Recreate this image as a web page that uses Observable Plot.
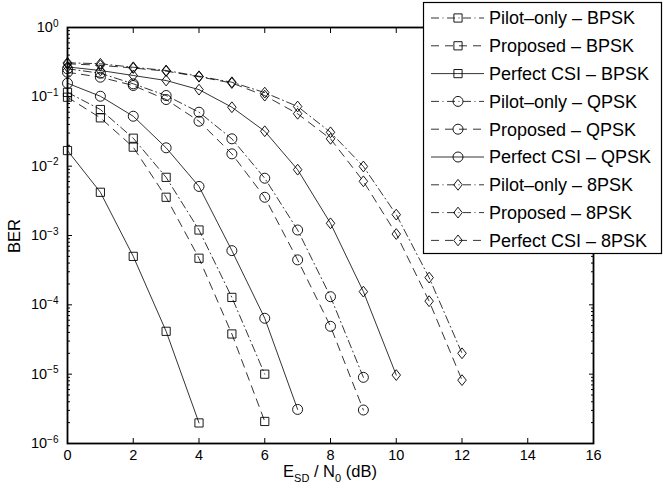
<!DOCTYPE html>
<html><head><meta charset="utf-8">
<script src="https://cdn.jsdelivr.net/npm/d3@7"></script>
<script src="https://cdn.jsdelivr.net/npm/@observablehq/plot@0.6"></script>
<style>
body{margin:0;background:#fff;}
#chart{position:relative;width:665px;height:487px;font-family:"Liberation Sans",Arial,sans-serif;}
#legend{position:absolute;left:0;top:0;}
</style></head><body><div id="chart"></div>
<script>
// ---- data ----
const seriesNames = [
  "Pilot–only – BPSK","Proposed – BPSK","Perfect CSI – BPSK",
  "Pilot–only – QPSK","Proposed – QPSK","Perfect CSI – QPSK",
  "Pilot–only – 8PSK","Proposed – 8PSK","Perfect CSI – 8PSK"
];
const snrBPSKpilot = [0,1,2,3,4,5,6];
const berBPSKpilot = [0.116,0.0656,0.0253,6.9e-3,1.2e-3,1.28e-4,1.0e-5];
const snrBPSKprop = [0,1,2,3,4,5,6];
const berBPSKprop = [0.0987,0.0498,0.0188,3.56e-3,4.7e-4,3.8e-5,2.08e-6];
const snrBPSKperf = [0,1,2,3,4];
const berBPSKperf = [1.68e-2,4.2e-3,5.0e-4,4.15e-5,1.98e-6];
const snrQPSKpilot = [0,1,2,3,4,5,6,7,8,9];
const berQPSKpilot = [0.254,0.219,0.154,0.1045,0.060,0.0248,6.7e-3,1.2e-3,1.31e-4,9.0e-6];
const snrQPSKprop = [0,1,2,3,4,5,6,7,8,9];
const berQPSKprop = [0.226,0.192,0.1456,0.0914,0.0445,0.01505,3.56e-3,4.45e-4,4.9e-5,3.04e-6];
const snrQPSKperf = [0,1,2,3,4,5,6,7];
const berQPSKperf = [0.157,0.102,0.0525,0.0184,5.1e-3,6.05e-4,6.4e-5,3.1e-6];
const snr8PSKpilot = [0,1,2,3,4,5,6,7,8,9,10,11,12];
const ber8PSKpilot = [0.31,0.30,0.267,0.24,0.198,0.1625,0.115,0.0725,0.0308,9.9e-3,2.0e-3,2.47e-4,2.0e-5];
const snr8PSKprop = [0,1,2,3,4,5,6,7,8,9,10,11,12];
const ber8PSKprop = [0.30,0.285,0.26,0.235,0.195,0.158,0.104,0.057,0.0248,6.05e-3,1.05e-3,1.13e-4,8.2e-6];
const snr8PSKperf = [0,1,2,3,4,5,6,7,8,9,10];
const ber8PSKperf = [0.27,0.24,0.203,0.172,0.127,0.0708,0.0319,8.9e-3,1.5e-3,1.55e-4,9.7e-6];
const xTicks = [0,2,4,6,8,10,12,14,16];
const yTicks = [1e-6,1e-5,1e-4,1e-3,1e-2,1e-1,1];

// ---- styles ----
const DASH = "8,6", DASHDOT = "8,3.5,1,3.5", SOLID = null;
const diamondSym = {draw(ctx, size){ const r=Math.sqrt(size/Math.PI); const w=r*0.85, h=r*1.08;
  ctx.moveTo(0,-h); ctx.lineTo(w,0); ctx.lineTo(0,h); ctx.lineTo(-w,0); ctx.closePath(); }};
const squareSym = {draw(ctx, size){ const r=Math.sqrt(size/Math.PI)*0.82;
  ctx.moveTo(-r,-r); ctx.lineTo(r,-r); ctx.lineTo(r,r); ctx.lineTo(-r,r); ctx.closePath(); }};
const circleSym = {draw(ctx, size){ const r=Math.sqrt(size/Math.PI); ctx.moveTo(r,0); ctx.arc(0,0,r,0,2*Math.PI); }};

const raw = [
  [snrBPSKpilot, berBPSKpilot, squareSym, DASHDOT, DASHDOT],
  [snrBPSKprop,  berBPSKprop,  squareSym, DASH, DASH],
  [snrBPSKperf,  berBPSKperf,  squareSym, SOLID, SOLID],
  [snrQPSKpilot, berQPSKpilot, circleSym, DASHDOT, DASHDOT],
  [snrQPSKprop,  berQPSKprop,  circleSym, DASH, DASH],
  [snrQPSKperf,  berQPSKperf,  circleSym, SOLID, SOLID],
  [snr8PSKpilot, ber8PSKpilot, diamondSym, DASHDOT, DASHDOT],
  [snr8PSKprop,  ber8PSKprop,  diamondSym, DASH, DASHDOT],
  [snr8PSKperf,  ber8PSKperf,  diamondSym, SOLID, DASH]
];
const series = raw.map(([xs, ys, sym, dash, legDash], i) => ({
  name: seriesNames[i], sym, dash, legDash,
  data: xs.map((x, j) => ({x, y: ys[j]}))
}));

const minorTicks = [];
for (let e = -6; e < 0; e++) for (let m = 2; m <= 9; m++) minorTicks.push(m * Math.pow(10, e));

const marks = [];
for (const s of series) {
  marks.push(Plot.line(s.data, {x:"x", y:"y", stroke:"black", strokeWidth:0.8, strokeDasharray: s.dash || undefined}));
  marks.push(Plot.dot(s.data, {x:"x", y:"y", symbol: s.sym, r:5, stroke:"black", strokeWidth:0.9, fill:"none"}));
}
const tickStyle = {stroke:"black", strokeWidth:1, tickFormat: () => ""};
marks.push(
  Plot.axisX(xTicks, {anchor:"bottom", tickSize:0, tickPadding:6, fontSize:14.5, tickFormat: d => String(d)}),
  Plot.axisX(xTicks, {anchor:"bottom", tickSize:-5, ...tickStyle}),
  Plot.axisX(xTicks, {anchor:"top", tickSize:-5, ...tickStyle}),
  Plot.axisY(yTicks, {anchor:"left", tickSize:0, tickPadding:9, fontSize:14.5, tickFormat: d => "10^" + Math.round(Math.log10(d))}),
  Plot.axisY(yTicks, {anchor:"left", tickSize:-5, ...tickStyle}),
  Plot.axisY(yTicks, {anchor:"right", tickSize:-5, ...tickStyle}),
  Plot.axisY(minorTicks, {anchor:"left", tickSize:-3, ...tickStyle}),
  Plot.axisY(minorTicks, {anchor:"right", tickSize:-3, ...tickStyle}),
  Plot.frame({stroke:"black", strokeWidth:1.8})
);

const plot = Plot.plot({
  width: 665, height: 487,
  marginLeft: 67, marginRight: 72, marginTop: 27, marginBottom: 44,
  style: {fontFamily: '"Liberation Sans", Arial, sans-serif', background: "white", color: "black"},
  x: {domain: [0, 16], label: null},
  y: {type: "log", domain: [1e-6, 1], label: null},
  marks
});
document.getElementById("chart").appendChild(plot);

const svg = d3.select(plot);
// superscripts on the y tick labels
svg.selectAll('g[aria-label="y-axis tick label"] text').each(function(){
  const t = d3.select(this); const s = t.text();
  if (!s.includes("^")) return;
  const exp = s.split("^")[1].replace("-", "−");
  t.text("10");
  t.append("tspan").attr("dy", "-0.55em").attr("font-size", "10px").text(exp);
});
// axis titles
const xl = svg.append("text").attr("x", 330).attr("y", 477).attr("text-anchor", "middle")
  .attr("font-size", 16.5).attr("fill", "black");
xl.append("tspan").text("E");
xl.append("tspan").attr("dy", 5).attr("font-size", 11).text("SD");
xl.append("tspan").attr("dy", -5).text(" / N");
xl.append("tspan").attr("dy", 5).attr("font-size", 11).text("0");
xl.append("tspan").attr("dy", -5).text(" (dB)");
svg.append("text").attr("transform", "translate(20,236) rotate(-90)").attr("text-anchor", "middle")
  .attr("font-size", 16.5).attr("fill", "black").text("BER");

// legend (overlay)
const lg = d3.select("#chart").append("svg").attr("id", "legend").attr("width", 665).attr("height", 487)
  .style("font-family", '"Liberation Sans", Arial, sans-serif');
const L = {x0: 423, y0: 2, w: 238, h: 251, row0: 16, dy: 27.8};
lg.append("rect").attr("x", L.x0 + 0.5).attr("y", L.y0 + 0.5).attr("width", L.w).attr("height", L.h)
  .attr("fill", "white").attr("stroke", "black").attr("stroke-width", 1.2);
series.forEach((s, i) => {
  const y = L.y0 + L.row0 + i * L.dy;
  lg.append("line").attr("x1", L.x0 + 8).attr("x2", L.x0 + 61).attr("y1", y).attr("y2", y)
    .attr("stroke", "black").attr("stroke-width", 0.8).attr("stroke-dasharray", s.legDash);
  lg.append("path").attr("transform", `translate(${L.x0 + 35},${y})`)
    .attr("d", d3.symbol(s.sym, Math.PI * 25)()).attr("fill", "none").attr("stroke", "black").attr("stroke-width", 0.9);
  lg.append("text").attr("x", L.x0 + 66).attr("y", y).attr("dy", "0.36em").attr("font-size", 18)
    .attr("fill", "black").text(s.name);
});
</script></body></html>
